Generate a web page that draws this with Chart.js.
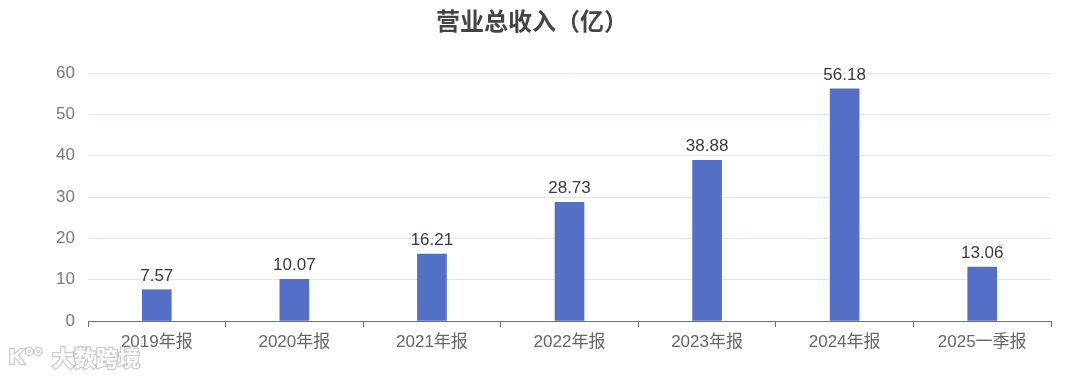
<!DOCTYPE html>
<html>
<head>
<meta charset="utf-8">
<script src="https://cdn.jsdelivr.net/npm/chart.js@4"></script>
<style>
html,body{margin:0;padding:0;background:#fff;}
#wrap{width:1080px;height:379px;position:relative;}
</style>
</head>
<body>
<div id="wrap"><canvas id="c" width="1080" height="379"></canvas></div>
<script>
const categories = ["2019年报","2020年报","2021年报","2022年报","2023年报","2024年报","2025一季报"];
const revenue = [7.57, 10.07, 16.21, 28.73, 38.88, 56.18, 13.06];
const yTicks = [0, 10, 20, 30, 40, 50, 60];
const titleText = "营业总收入（亿）";
const watermark = "大数跨境";

const FONT = '"Liberation Sans", "Noto Sans CJK SC", sans-serif';

const valueLabels = {
  id: 'valueLabels',
  afterDatasetsDraw(chart) {
    const ctx = chart.ctx;
    const meta = chart.getDatasetMeta(0);
    ctx.save();
    ctx.font = '17px ' + FONT;
    ctx.fillStyle = '#3a3a3a';
    ctx.textAlign = 'center';
    ctx.textBaseline = 'alphabetic';
    meta.data.forEach((bar, i) => {
      ctx.fillText(revenue[i].toFixed(2), bar.x, bar.y - 9);
    });
    ctx.restore();
  }
};

const titlePlugin = {
  id: 'customTitle',
  afterDraw(chart) {
    const ctx = chart.ctx;
    ctx.save();
    ctx.font = 'bold 24px "Noto Sans CJK SC", sans-serif';
    ctx.fillStyle = '#444';
    ctx.textAlign = 'center';
    ctx.textBaseline = 'middle';
    ctx.fillText(titleText, 532, 21);
    ctx.restore();
  }
};

const watermarkPlugin = {
  id: 'watermark',
  afterDraw(chart) {
    const ctx = chart.ctx;
    ctx.save();
    ctx.font = 'bold 22px "Noto Sans CJK SC", sans-serif';
    ctx.textAlign = 'left';
    ctx.textBaseline = 'middle';
    ctx.lineWidth = 2.5;
    ctx.strokeStyle = 'rgba(170,170,170,0.6)';
    ctx.fillStyle = 'rgba(255,255,255,0.95)';
    ctx.strokeText(watermark, 52, 358);
    ctx.fillText(watermark, 52, 358);
    ctx.font = 'bold 22px "Liberation Sans", sans-serif';
    ctx.strokeText('K°°', 9, 358);
    ctx.fillText('K°°', 9, 358);
    ctx.restore();
  }
};

new Chart(document.getElementById('c'), {
  type: 'bar',
  data: {
    labels: categories,
    datasets: [{
      data: revenue,
      backgroundColor: '#5470c6',
      barThickness: 29
    }]
  },
  options: {
    responsive: false,
    animation: false,
    devicePixelRatio: 1,
    layout: { padding: { left: 0, right: 29, top: 73, bottom: 0 } },
    plugins: {
      legend: { display: false },
      tooltip: { enabled: false },
      title: { display: false }
    },
    scales: {
      x: {
        offset: true,
        grid: {
          display: true,
          offset: true,
          drawOnChartArea: false,
          drawTicks: true,
          tickLength: 6,
          color: '#6e7079',
          lineWidth: 1
        },
        border: { display: true, color: '#6e7079', width: 1 },
        ticks: {
          color: '#666',
          font: { family: FONT, size: 17 },
          padding: 5,
          maxRotation: 0,
          autoSkip: false
        },
        afterFit(scale) { scale.height = 58; }
      },
      y: {
        min: 0,
        max: 60,
        afterBuildTicks(scale) { scale.ticks = yTicks.map(v => ({ value: v })); },
        grid: {
          color: (c) => (c.tick && c.tick.value === 0) ? 'rgba(0,0,0,0)' : '#e0e6f1',
          drawTicks: false,
          lineWidth: 1
        },
        border: { display: false },
        ticks: {
          color: '#7a7a7a',
          font: { family: FONT, size: 17 },
          padding: 13
        },
        afterFit(scale) { scale.width = 88; }
      }
    }
  },
  plugins: [valueLabels, titlePlugin, watermarkPlugin]
});
</script>
</body>
</html>
